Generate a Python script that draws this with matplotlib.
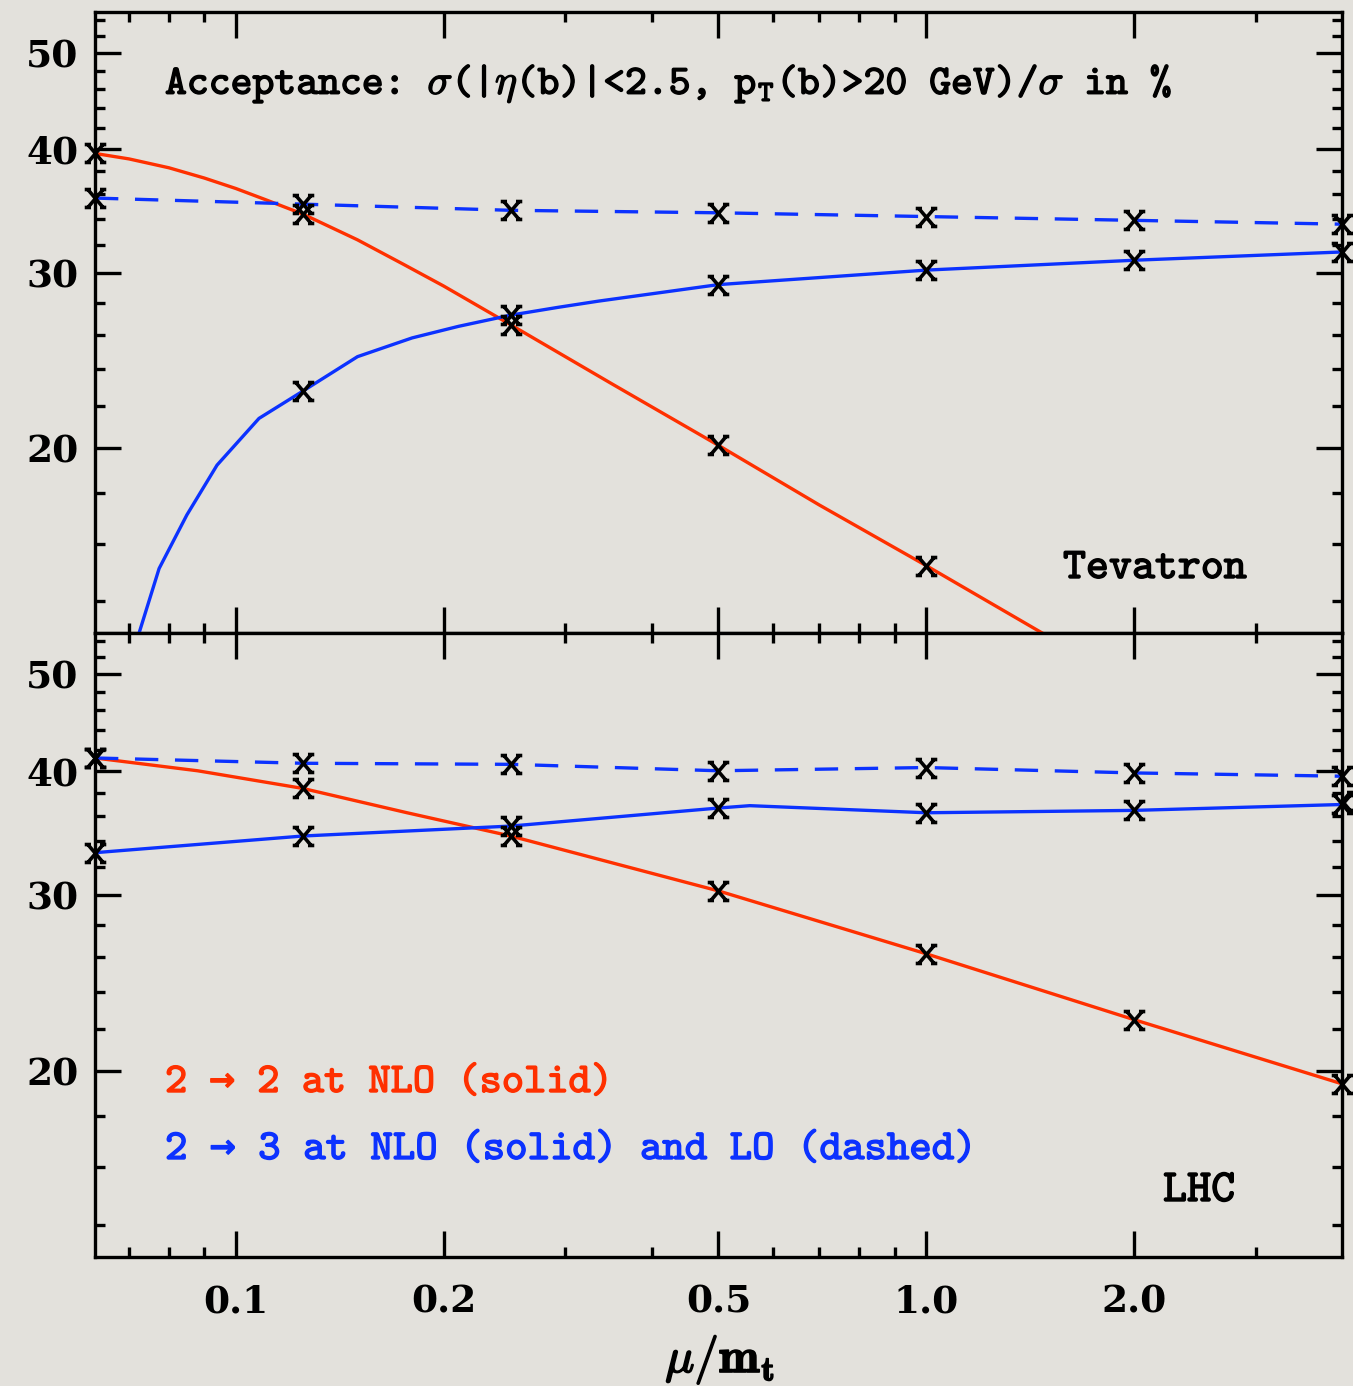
import numpy as np
import matplotlib
matplotlib.use("Agg")
import matplotlib.pyplot as plt
from matplotlib.path import Path
from matplotlib.ticker import FixedLocator, FixedFormatter, NullFormatter
import matplotlib.patheffects as pe

plt.rcParams['mathtext.fontset'] = 'cm'

# ---- data -------------------------------------------------------------
# renormalisation/factorisation scale in units of m_t
mu = [1/16, 1/8, 1/4, 1/2, 1, 2, 4]

# Tevatron: acceptance in %
tev_22_nlo = [39.6, 34.4, 26.6, 20.1, 15.2, 11.5, 8.8]
tev_23_nlo = [np.nan, 22.8, 27.2, 29.2, 30.2, 30.9, 31.5]
tev_23_lo = [35.7, 35.2, 34.7, 34.5, 34.2, 33.9, 33.6]

# LHC: acceptance in %
lhc_22_nlo = [41.2, 38.4, 34.4, 30.3, 26.2, 22.5, 19.4]
lhc_23_nlo = [33.1, 34.4, 35.2, 36.7, 36.3, 36.5, 37.0]
lhc_23_lo = [41.2, 40.7, 40.6, 40.0, 40.3, 39.8, 39.5]

# smooth curves through the computed points
tev_22_curve_x = [0.0625, 0.07, 0.08, 0.09, 0.1, 0.11, 0.125, 0.15, 0.175,
                  0.2, 0.25, 0.35, 0.5, 0.7, 1.0, 1.5, 2.0, 4.0]
tev_22_curve_y = [39.6, 39.1, 38.3, 37.4, 36.5, 35.6, 34.4, 32.4, 30.6,
                  29.1, 26.6, 23.2, 20.1, 17.5, 15.2, 12.9, 11.5, 8.8]

tev_23_curve_x = [0.0700, 0.0724, 0.0774, 0.0849, 0.0939, 0.108, 0.125,
                  0.15, 0.18, 0.21, 0.25, 0.293, 0.335, 0.5, 1.0, 2.0, 4.0]
tev_23_curve_y = [11.8, 13.0, 15.1, 17.1, 19.2, 21.4, 22.8,
                  24.7, 25.8, 26.5, 27.2, 27.7, 28.1, 29.2, 30.2, 30.9, 31.5]

lhc_22_curve_x = [0.0625, 0.088, 0.125, 0.177, 0.25, 0.5, 1.0, 2.0, 4.0]
lhc_22_curve_y = [41.2, 40.0, 38.4, 36.3, 34.4, 30.3, 26.2, 22.5, 19.4]

lhc_23_curve_x = [0.0625, 0.125, 0.25, 0.5, 0.555, 1.0, 2.0, 4.0]
lhc_23_curve_y = [33.1, 34.4, 35.2, 36.7, 36.9, 36.3, 36.5, 37.0]

x_major = [0.1, 0.2, 0.5, 1.0, 2.0]
x_major_labels = ["0.1", "0.2", "0.5", "1.0", "2.0"]
x_minor = [0.07, 0.08, 0.09, 0.3, 0.4, 0.6, 0.7, 0.8, 0.9, 3.0]
y_major = [20, 30, 40, 50]
y_major_labels = ["20", "30", "40", "50"]
y_minor = [v for v in range(14, 56, 2) if v not in y_major]

# ---- style ------------------------------------------------------------
BG = "#e3e1dc"
RED = "#ff3000"
BLUE = "#0c32ff"
LW = 2.4
TT = ["cmtt10", "DejaVu Sans Mono"]
bold_fx = lambda c, w=1.0: [pe.withStroke(linewidth=w, foreground=c)]


def serif_cross():
    # an "X" whose four arms end in short horizontal serifs
    v = [(-0.85, -1), (0.85, 1), (-0.85, 1), (0.85, -1),
         (-1.2, 1), (-0.5, 1), (0.5, 1), (1.2, 1),
         (-1.2, -1), (-0.5, -1), (0.5, -1), (1.2, -1)]
    c = [Path.MOVETO, Path.LINETO] * 6
    return Path(v, c)


MARK = serif_cross()

fig = plt.figure(figsize=(13.53, 13.86), dpi=100, facecolor=BG)
ax1 = fig.add_axes([0.07021, 0.54329, 0.92165, 0.44805])
ax2 = fig.add_axes([0.07021, 0.09307, 0.92165, 0.45022])

for ax in (ax1, ax2):
    ax.set_facecolor(BG)
    ax.set_xscale("log")
    ax.set_yscale("log")
    ax.set_xlim(1/16, 4)
    ax.set_ylim(13, 55)
    ax.xaxis.set_major_locator(FixedLocator(x_major))
    ax.xaxis.set_minor_locator(FixedLocator(x_minor))
    ax.yaxis.set_major_locator(FixedLocator(y_major))
    ax.yaxis.set_minor_locator(FixedLocator(y_minor))
    ax.xaxis.set_minor_formatter(NullFormatter())
    ax.yaxis.set_minor_formatter(NullFormatter())
    ax.yaxis.set_major_formatter(FixedFormatter(y_major_labels))
    ax.tick_params(which="both", direction="in", top=True, right=True,
                   width=LW, color="k")
    ax.tick_params(which="major", length=19)
    ax.tick_params(which="minor", length=7)
    ax.tick_params(axis="y", pad=12)
    ax.tick_params(axis="x", pad=19)
    for s in ax.spines.values():
        s.set_linewidth(LW)
        s.set_color("k")
    for lab in ax.get_yticklabels():
        lab.set_fontfamily("DejaVu Serif")
        lab.set_fontweight("bold")
        lab.set_fontsize(27)

ax1.xaxis.set_major_formatter(NullFormatter())
ax2.xaxis.set_major_formatter(FixedFormatter(x_major_labels))
for lab in ax2.get_xticklabels():
    lab.set_fontfamily("DejaVu Serif")
    lab.set_fontweight("bold")
    lab.set_fontsize(27)


def draw_panel(ax, c22x, c22y, c23x, c23y, m22, m23, m23lo):
    ax.plot(c22x, c22y, color=RED, lw=LW, zorder=3)
    ax.plot(c23x, c23y, color=BLUE, lw=LW, zorder=3)
    ax.plot(mu, m23lo, color=BLUE, lw=LW, dashes=(7, 5), zorder=3)
    for vals in (m22, m23, m23lo):
        ax.plot(mu, vals, linestyle="none", marker=MARK, ms=15.5,
                mec="k", mfc="none", mew=2.6, clip_on=False, zorder=5)


draw_panel(ax1, tev_22_curve_x, tev_22_curve_y, tev_23_curve_x,
           tev_23_curve_y, tev_22_nlo, tev_23_nlo, tev_23_lo)
draw_panel(ax2, lhc_22_curve_x, lhc_22_curve_y, lhc_23_curve_x,
           lhc_23_curve_y, lhc_22_nlo, lhc_23_nlo, lhc_23_lo)

W, H = 1353.0, 1386.0


def ftext(px, py, s, color="k", size=30, **kw):
    return fig.text(px / W, 1 - py / H, s, color=color, fontsize=size,
                    family=TT, va="baseline", ha="left",
                    path_effects=bold_fx(color), **kw)


ftext(165, 94, r"Acceptance: $\sigma$(|$\eta$(b)|<2.5, p$_{\mathtt{T}}$(b)>20 GeV)/$\sigma$ in %")
ftext(1063, 578, "Tevatron", size=31.5)
ftext(1163, 1201, "LHC", size=33)
ftext(165, 1092, "2 \u2192 2 at NLO (solid)", color=RED, size=30.5)
ftext(165, 1159, "2 \u2192 3 at NLO (solid) and LO (dashed)", color=BLUE,
      size=30.8)

fig.text(720 / W, 1 - 1372 / H, r"$\mu/\mathbf{m}_\mathbf{t}$", fontsize=35,
         ha="center", va="baseline", color="k",
         path_effects=bold_fx("k", 1.2))

fig.savefig("out.png", dpi=100, facecolor=BG)
